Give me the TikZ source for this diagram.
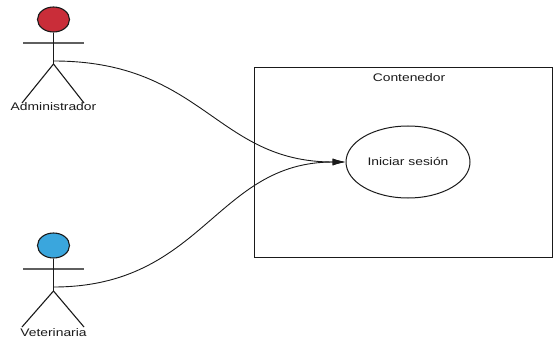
\documentclass[tikz,border=0pt]{standalone}
\usepackage{graphicx}
\usepackage{fontspec}
\setmainfont{Liberation Sans}
\usetikzlibrary{arrows.meta,shapes.geometric}
\definecolor{headred}{HTML}{C92D39}
\definecolor{headblue}{HTML}{3AA6DD}
\definecolor{ink}{HTML}{1A1A1A}
\newcommand{\wide}[1]{\scalebox{1.26}[1]{#1}}
\tikzset{
  x=1pt,y=-1pt,
  limb/.style={draw=ink,line width=1.1pt},
  armline/.style={draw=ink!70,line width=1.2pt},
  head/.style={ellipse,draw=ink,line width=1.1pt,minimum width=32pt,minimum height=25pt,inner sep=0pt},
  lbl/.style={font=\fontsize{11}{13}\selectfont,text=ink,inner sep=0pt},
  assoc/.style={draw=ink,line width=0.9pt,-{Latex[length=13pt,width=7pt]}},
}
\begin{document}
\begin{tikzpicture}
\useasboundingbox (0,0) rectangle (553,339);
\node[draw=ink,line width=1pt,minimum width=298pt,minimum height=190pt,inner sep=0pt,anchor=north west] (box) at (254,67) {};
\node[lbl] (title) at (409,77.5) {\wide{Contenedor}};
\node[ellipse,draw=ink,line width=1pt,minimum width=124pt,minimum height=72pt,inner sep=0pt,lbl] (uc) at (408,162) {\wide{Iniciar sesión}};
% Administrador
\node[head,fill=headred] (h1) at (53.5,19.5) {};
\coordinate (hip1) at (53.5,64);
\coordinate (start1) at (53.5,61);
\coordinate (a1l) at (23,43);\coordinate (a1r) at (84,43);
\coordinate (f1l) at (22,103);\coordinate (f1r) at (84,103);
\draw[armline] (a1l) -- (a1r);
\draw[limb] (h1.south) -- (hip1);
\draw[limb] (f1l) -- (hip1) -- (f1r);
\node[lbl] (l1) at (53.5,107) {\wide{Administrador}};
% Veterinaria
\node[head,fill=headblue] (h2) at (53.5,245.5) {};
\coordinate (hip2) at (53.5,291);
\coordinate (start2) at (53.5,287);
\coordinate (a2l) at (23,269);\coordinate (a2r) at (84,269);
\coordinate (f2l) at (22,327);\coordinate (f2r) at (84,327);
\draw[armline] (a2l) -- (a2r);
\draw[limb] (h2.south) -- (hip2);
\draw[limb] (f2l) -- (hip2) -- (f2r);
\node[lbl] (l2) at (53.5,333) {\wide{Veterinaria}};
% connectors
\draw[assoc] (start1) .. controls +(150,0) and +(-130,0) .. (uc.west);
\draw[assoc] (start2) .. controls +(150,0) and +(-130,0) .. (uc.west);
\end{tikzpicture}
\end{document}
